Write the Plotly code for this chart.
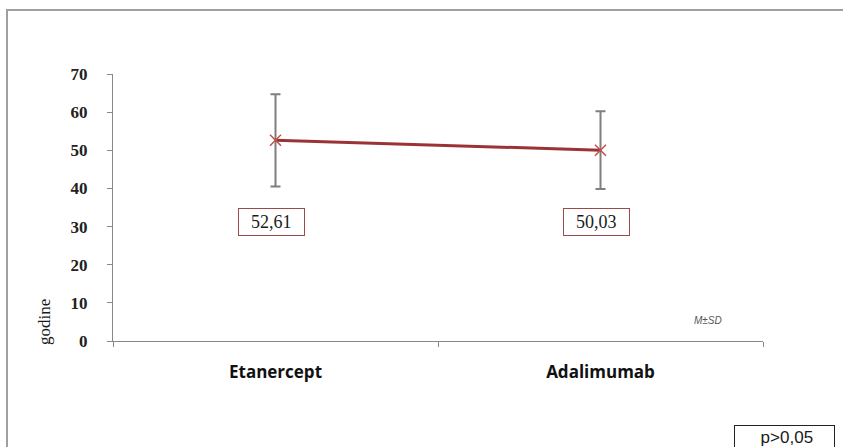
import plotly.graph_objects as go

categories = ["Etanercept", "Adalimumab"]
means = [52.61, 50.03]
sds = [12.1, 10.2]
value_labels = ["52,61", "50,03"]
y_ticks = [0, 10, 20, 30, 40, 50, 60, 70]

fig = go.Figure()
fig.add_trace(go.Scatter(
    x=categories, y=means, mode="lines+markers",
    line=dict(color="#9B3335", width=3),
    marker=dict(symbol="x-thin", size=11, line=dict(color="#C0504D", width=1.5), color="#C0504D"),
    error_y=dict(type="data", array=sds, visible=True, color="#7F7F7F", thickness=2, width=5),
    showlegend=False, hoverinfo="skip",
))

for cat, lab in zip(categories, value_labels):
    fig.add_annotation(
        x=cat, y=31.2, xref="x", yref="y", text="&nbsp;&nbsp;" + lab + "&nbsp;&nbsp;", showarrow=False,
        font=dict(family="Liberation Serif", size=18, color="#1a1a1a"),
        bordercolor="#9B4A4A", borderwidth=1, borderpad=3, bgcolor="white",
        xshift=-4,
    )

fig.add_annotation(x=(708 - 113) / 650, y=5.3, xref="paper", yref="y", text="<i>M±SD</i>",
                   showarrow=False, xanchor="center",
                   font=dict(family="Liberation Sans", size=10, color="#555"))
fig.add_annotation(x=(45 - 113) / 650, y=5, xref="paper", yref="y", text="godine", textangle=-90,
                   showarrow=False, xanchor="center",
                   font=dict(family="Liberation Serif", size=17, color="#1a1a1a"))
fig.add_annotation(x=(835 - 113) / 650, y=(341 - 425) / 267, xref="paper", yref="paper",
                   text="&nbsp;&nbsp;&nbsp;&nbsp;&nbsp;p>0,05&nbsp;&nbsp;&nbsp;&nbsp;", showarrow=False,
                   xanchor="right", yanchor="top",
                   font=dict(family="Liberation Sans", size=17, color="#1a1a1a"),
                   bordercolor="#222", borderwidth=1, borderpad=2, bgcolor="white")

fig.update_layout(
    width=843, height=447,
    margin=dict(l=113, r=80, t=74, b=106),
    paper_bgcolor="white", plot_bgcolor="white",
    xaxis=dict(type="category", range=[-0.5, 1.5], showgrid=False, showline=True,
               linecolor="#888", linewidth=1, ticks="outside", ticklen=5, tickcolor="#888",
               tickson="boundaries", ticklabelstandoff=16,
               tickfont=dict(family="Open Sans", size=17, color="#111", weight="bold"),
               zeroline=False),
    yaxis=dict(range=[0, 70], tickvals=y_ticks, showgrid=False, showline=True,
               linecolor="#888", linewidth=1, ticks="outside", ticklen=5, tickcolor="#888",
               ticklabelstandoff=16,
               tickfont=dict(family="Liberation Serif", size=17, color="#222", weight="bold"),
               zeroline=False),
)

fig.add_shape(type="rect", xref="paper", yref="paper",
              x0=-106 / 650, x1=(843 - 113 + 10) / 650, y0=-(447 - 341 + 10) / 267, y1=(341 - 10) / 267,
              line=dict(color="#A0A0A0", width=2), fillcolor="rgba(0,0,0,0)", layer="below")

fig.write_html("out.html", config={"displayModeBar": False},
               post_script="document.body.style.margin='0';")
